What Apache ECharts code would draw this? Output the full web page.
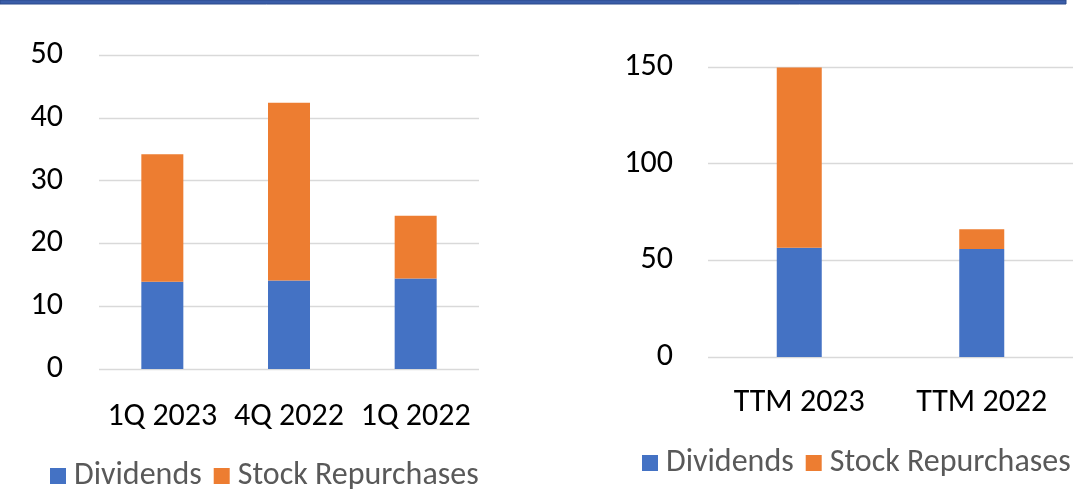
<!DOCTYPE html>
<html>
<head>
<meta charset="utf-8">
<script src="https://cdn.jsdelivr.net/npm/echarts@6/dist/echarts.min.js"></script>
<style>
  html, body { margin: 0; padding: 0; background: #fff; }
  #chart { width: 1089px; height: 491px; }
</style>
</head>
<body>
<div id="chart"></div>
<script>
// quarterly chart (left)
var quarters = ['1Q 2023', '4Q 2022', '1Q 2022'];
var qDividends = [13.9, 14.1, 14.4];
var qRepurchases = [20.3, 28.3, 10.0];

// trailing twelve months chart (right)
var ttmYears = ['TTM 2023', 'TTM 2022'];
var ttmDividends = [56.5, 55.9];
var ttmRepurchases = [93.3, 10.2];

var font = 'Carlito, Lato, sans-serif';
var blue = '#4472C4';
var orange = '#ED7D31';

var myChart = echarts.init(document.getElementById('chart'));

var legendText = {fontFamily: font, fontSize: 32, lineHeight: 32, color: '#595959', padding: [0, 0, 0, 3]};
var tickText = {fontFamily: font, fontSize: 32, color: '#000'};

var option = {
    animation: false,
    color: [blue, orange],
    graphic: [{
        type: 'rect',
        shape: {x: 0, y: 0, width: 1066, height: 4},
        style: {fill: '#3A5DA8', stroke: '#2A4A8C', lineWidth: 1}
    }],
    legend: [
        {
            left: 50, top: 460, padding: 0,
            itemWidth: 16, itemHeight: 16, itemGap: 12,
            icon: 'rect',
            data: ['Dividends', 'Stock Repurchases'],
            textStyle: legendText
        },
        {
            left: 642, top: 447, padding: 0,
            itemWidth: 16, itemHeight: 16, itemGap: 12,
            icon: 'rect',
            data: ['Dividends', 'Stock Repurchases'],
            textStyle: legendText
        }
    ],
    grid: [
        {left: 99, top: 55, width: 380, height: 314},
        {left: 708, top: 67, width: 365, height: 290}
    ],
    xAxis: [
        {
            type: 'category', gridIndex: 0, data: quarters,
            axisLine: {show: false}, axisTick: {show: false},
            axisLabel: Object.assign({margin: 32, lineHeight: 32, interval: 0, hideOverlap: false}, tickText)
        },
        {
            type: 'category', gridIndex: 1, data: ttmYears,
            axisLine: {show: false}, axisTick: {show: false},
            axisLabel: Object.assign({margin: 30, lineHeight: 32, interval: 0, hideOverlap: false}, tickText)
        }
    ],
    yAxis: [
        {
            type: 'value', gridIndex: 0, min: 0, max: 50, interval: 10,
            axisLine: {show: false}, axisTick: {show: false},
            axisLabel: Object.assign({margin: 36}, tickText),
            splitLine: {lineStyle: {color: '#D9D9D9', width: 1.3}}
        },
        {
            type: 'value', gridIndex: 1, min: 0, max: 150, interval: 50,
            axisLine: {show: false}, axisTick: {show: false},
            axisLabel: Object.assign({margin: 35}, tickText),
            splitLine: {lineStyle: {color: '#D9D9D9', width: 1.3}}
        }
    ],
    series: [
        {name: 'Dividends', type: 'bar', stack: 'q', xAxisIndex: 0, yAxisIndex: 0,
            barWidth: 42, data: qDividends, itemStyle: {color: blue}},
        {name: 'Stock Repurchases', type: 'bar', stack: 'q', xAxisIndex: 0, yAxisIndex: 0,
            barWidth: 42, data: qRepurchases, itemStyle: {color: orange}},
        {name: 'Dividends', type: 'bar', stack: 't', xAxisIndex: 1, yAxisIndex: 1,
            barWidth: 45, data: ttmDividends, itemStyle: {color: blue}},
        {name: 'Stock Repurchases', type: 'bar', stack: 't', xAxisIndex: 1, yAxisIndex: 1,
            barWidth: 45, data: ttmRepurchases, itemStyle: {color: orange}}
    ]
};

myChart.setOption(option);
</script>
</body>
</html>
